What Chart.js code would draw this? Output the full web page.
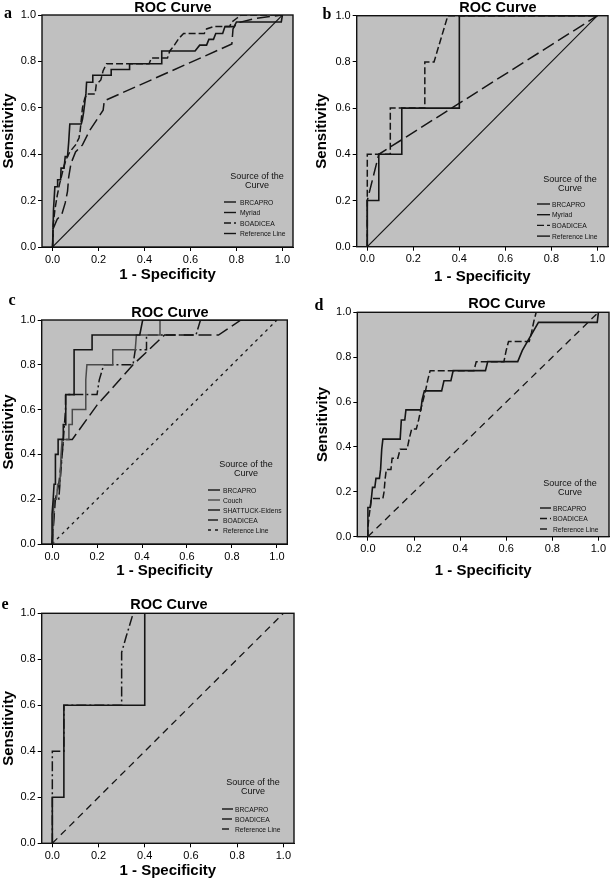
<!DOCTYPE html>
<html><head><meta charset="utf-8">
<script src="https://cdn.jsdelivr.net/npm/chart.js@4.4.1/dist/chart.umd.min.js"></script>
<style>
html,body{margin:0;padding:0;background:#fff;width:610px;height:880px;overflow:hidden}
.p{position:absolute}
canvas{display:block}
</style></head><body>
<div class="p" style="left:0;top:0"><canvas id="ca" width="305" height="290"></canvas></div>
<div class="p" style="left:305px;top:0"><canvas id="cb" width="305" height="290"></canvas></div>
<div class="p" style="left:0;top:290px"><canvas id="cc" width="305" height="290"></canvas></div>
<div class="p" style="left:305px;top:290px"><canvas id="cd" width="305" height="290"></canvas></div>
<div class="p" style="left:0;top:580px"><canvas id="ce" width="305" height="300"></canvas></div>
<script>
// ---------- DATA ----------
const xTicks = [0, 0.2, 0.4, 0.6, 0.8, 1.0];
const yTicks = [0, 0.2, 0.4, 0.6, 0.8, 1.0];
const referenceLine = [[0,0],[1,1]];

// Panel a
const aBRCAPRO = [[0,0],[0.004,0.16],[0.01,0.26],[0.02,0.26],[0.022,0.29],[0.035,0.29],[0.037,0.34],[0.05,0.34],[0.055,0.39],[0.065,0.39],[0.07,0.45],[0.075,0.53],[0.125,0.53],[0.13,0.55],[0.135,0.58],[0.14,0.62],[0.145,0.66],[0.148,0.71],[0.175,0.71],[0.175,0.74],[0.255,0.74],[0.255,0.765],[0.335,0.765],[0.335,0.79],[0.475,0.79],[0.475,0.845],[0.62,0.845],[0.64,0.87],[0.67,0.87],[0.68,0.895],[0.7,0.895],[0.71,0.92],[0.74,0.92],[0.75,0.95],[0.79,0.95],[0.8,0.97],[0.995,0.97],[1,1]];
const aMyriad = [[0,0],[0.003,0.08],[0.02,0.12],[0.04,0.14],[0.055,0.19],[0.065,0.24],[0.07,0.3],[0.08,0.36],[0.1,0.41],[0.13,0.44],[0.16,0.5],[0.22,0.59],[0.225,0.63],[0.78,0.875],[0.785,0.94],[0.8,0.965],[0.88,0.985],[1,1]];
const aBOADICEA = [[0,0],[0.003,0.1],[0.01,0.16],[0.02,0.22],[0.03,0.27],[0.04,0.31],[0.05,0.35],[0.06,0.38],[0.075,0.41],[0.1,0.44],[0.115,0.47],[0.12,0.5],[0.125,0.55],[0.13,0.6],[0.14,0.64],[0.15,0.66],[0.185,0.66],[0.19,0.7],[0.21,0.72],[0.22,0.76],[0.235,0.79],[0.42,0.79],[0.43,0.815],[0.5,0.815],[0.51,0.845],[0.53,0.87],[0.55,0.9],[0.57,0.92],[0.66,0.92],[0.67,0.94],[0.7,0.95],[0.77,0.95],[0.78,0.97],[0.8,0.985],[0.82,1],[1,1]];

// Panel b
const bBRCAPRO = [[0,0],[0,0.2],[0.05,0.2],[0.05,0.4],[0.15,0.4],[0.15,0.6],[0.4,0.6],[0.4,1],[1,1]];
const bMyriad = [[0,0],[0,0.2],[0.05,0.4],[1,1]];
const bBOADICEA = [[0,0],[0,0.4],[0.1,0.4],[0.1,0.6],[0.25,0.6],[0.25,0.8],[0.29,0.8],[0.35,1],[1,1]];

// Panel c
const cBRCAPRO = [[0,0],[0,0.133],[0.005,0.2],[0.009,0.267],[0.015,0.267],[0.015,0.4],[0.027,0.4],[0.027,0.467],[0.05,0.467],[0.05,0.533],[0.061,0.533],[0.061,0.667],[0.098,0.667],[0.098,0.867],[0.178,0.867],[0.178,0.933],[0.39,0.933],[0.403,1],[1,1]];
const cCouch = [[0,0],[0.004,0.067],[0.008,0.2],[0.02,0.2],[0.025,0.267],[0.035,0.267],[0.04,0.4],[0.045,0.467],[0.075,0.467],[0.075,0.533],[0.09,0.533],[0.09,0.6],[0.15,0.6],[0.15,0.733],[0.155,0.8],[0.27,0.8],[0.27,0.867],[0.37,0.867],[0.375,0.933],[0.48,0.933],[0.48,1],[1,1]];
const cSHATTUCK = [[0,0],[0.005,0.067],[0.015,0.2],[0.03,0.267],[0.045,0.4],[0.05,0.467],[0.09,0.467],[0.2,0.62],[0.36,0.8],[0.5,0.933],[0.74,0.933],[0.84,1],[1,1]];
const cBOADICEA = [[0,0],[0.005,0.067],[0.01,0.2],[0.03,0.2],[0.04,0.333],[0.045,0.4],[0.05,0.467],[0.055,0.533],[0.06,0.6],[0.06,0.667],[0.2,0.667],[0.21,0.733],[0.23,0.8],[0.36,0.8],[0.37,0.867],[0.42,0.867],[0.42,0.933],[0.64,0.933],[0.66,1],[1,1]];

// Panel d
const dBRCAPRO = [[0,0],[0,0.13],[0.01,0.13],[0.015,0.17],[0.02,0.22],[0.03,0.22],[0.035,0.26],[0.05,0.26],[0.055,0.3],[0.06,0.39],[0.065,0.435],[0.14,0.435],[0.145,0.52],[0.16,0.52],[0.165,0.565],[0.23,0.565],[0.235,0.61],[0.245,0.65],[0.32,0.65],[0.33,0.695],[0.36,0.695],[0.37,0.74],[0.51,0.74],[0.52,0.78],[0.65,0.78],[0.67,0.83],[0.74,0.955],[0.995,0.955],[1,1]];
const dBOADICEA = [[0,0],[0,0.04],[0.005,0.09],[0.01,0.13],[0.015,0.17],[0.065,0.17],[0.07,0.2],[0.075,0.26],[0.08,0.3],[0.1,0.3],[0.105,0.35],[0.13,0.35],[0.14,0.39],[0.17,0.39],[0.18,0.44],[0.19,0.48],[0.21,0.48],[0.22,0.52],[0.23,0.57],[0.24,0.61],[0.25,0.65],[0.26,0.7],[0.27,0.74],[0.46,0.74],[0.47,0.78],[0.59,0.78],[0.6,0.83],[0.61,0.87],[0.7,0.87],[0.71,0.91],[0.72,0.96],[0.73,1],[1,1]];

// Panel e
const eBRCAPRO = [[0,0],[0,0.2],[0.05,0.2],[0.05,0.6],[0.4,0.6],[0.4,1],[1,1]];
const eBOADICEA = [[0,0],[0,0.4],[0.05,0.4],[0.05,0.6],[0.3,0.6],[0.3,0.83],[0.32,0.9],[0.35,1],[1,1]];

// ---------- STYLES / LAYOUT ----------
const INK = '#151515';
const FONT = '"Liberation Sans", Arial, Helvetica, sans-serif';
const SOLID = [], DASH = [7,3], LONG = [13,5], DASHDOT = [10,3,2,3], SHORT = [3,4], REFD = [7,5];

const panels = [
  {id:'ca', letter:'a', w:305, h:290, pad:{left:0,top:15,right:12,bottom:6}, wy:42, hx:37,
   letterPos:[8,14], titlePos:[173,8],
   legend:{cx:257,y1:177,y0:202,dy:10.5,sx1:224,sx2:236,tx:240},
   series:[['BRCAPRO',aBRCAPRO,SOLID,1.6],['Myriad',aMyriad,LONG,1.5],['BOADICEA',aBOADICEA,DASH,1.5],['Reference Line',referenceLine,SOLID,1.1]]},
  {id:'cb', letter:'b', w:305, h:290, pad:{left:8,top:15.7,right:2,bottom:4}, wy:43.7, hx:39.3,
   letterPos:[22,15], titlePos:[193,8],
   legend:{cx:265,y1:180,y0:204,dy:10.7,sx1:232,sx2:245,tx:247},
   series:[['BRCAPRO',bBRCAPRO,SOLID,1.6],['Myriad',bMyriad,LONG,1.5],['BOADICEA',bBOADICEA,DASH,1.5],['Reference Line',referenceLine,SOLID,1.1]]},
  {id:'cc', letter:'c', w:305, h:290, pad:{left:0,top:30,right:17.7,bottom:0}, wy:41.7, hx:36,
   letterPos:[12,11], titlePos:[170,22.5],
   legend:{cx:246,y1:175,y0:200,dy:10,sx1:208,sx2:220,tx:223},
   series:[['BRCAPRO',cBRCAPRO,SOLID,1.6],['Couch',cCouch,SOLID,1.5,'#4a4a4a'],['SHATTUCK-Eldens',cSHATTUCK,LONG,1.5],['BOADICEA',cBOADICEA,DASHDOT,1.5],['Reference Line',referenceLine,SHORT,1.3]]},
  {id:'cd', letter:'d', w:305, h:290, pad:{left:9,top:22.3,right:1,bottom:0}, wy:43.3, hx:43.3,
   letterPos:[14,16], titlePos:[202,13.5],
   legend:{cx:265,y1:194,y0:218,dy:10.5,sx1:235,sx2:246,tx:248},
   series:[['BRCAPRO',dBRCAPRO,SOLID,1.6],['BOADICEA',dBOADICEA,DASH,1.5],['Reference Line',referenceLine,REFD,1.3]]},
  {id:'ce', letter:'e', w:305, h:300, pad:{left:0,top:33.3,right:11,bottom:0}, wy:41.7, hx:36.7,
   letterPos:[5,25], titlePos:[169,25],
   legend:{cx:253,y1:203,y0:229,dy:10,sx1:222,sx2:233,tx:235},
   series:[['BRCAPRO',eBRCAPRO,SOLID,1.6],['BOADICEA',eBOADICEA,DASHDOT,1.5],['Reference Line',referenceLine,REFD,1.3]]}
];

// ---------- PLUGINS ----------
const framePlugin = {
  id:'frame',
  beforeDatasetsDraw(chart){
    const {ctx, chartArea:a} = chart;
    ctx.save(); ctx.fillStyle = '#c0c0c0';
    ctx.fillRect(a.left, a.top, a.right-a.left, a.bottom-a.top);
    ctx.restore();
  },
  afterDraw(chart){
    const {ctx, chartArea:a} = chart;
    ctx.save(); ctx.strokeStyle = '#111'; ctx.lineWidth = 1.4;
    ctx.strokeRect(a.left, a.top, a.right-a.left, a.bottom-a.top);
    ctx.restore();
  }
};
const textPlugin = {
  id:'panelText',
  afterDraw(chart, args, o){
    const ctx = chart.ctx, L = o.legend;
    ctx.save();
    ctx.fillStyle = '#000'; ctx.textBaseline = 'middle';
    ctx.textAlign = 'center';
    ctx.font = 'bold 16px "Liberation Serif", "Times New Roman", serif';
    ctx.fillText(o.letter, o.letterPos[0], o.letterPos[1]);
    ctx.font = 'bold 14.5px ' + FONT;
    ctx.fillText('ROC Curve', o.titlePos[0], o.titlePos[1]);
    ctx.fillStyle = '#111';
    ctx.font = '9px ' + FONT;
    ctx.fillText('Source of the', L.cx, L.y1);
    ctx.fillText('Curve', L.cx, L.y1 + 9);
    ctx.textAlign = 'left';
    ctx.font = '8px ' + FONT;
    chart.data.datasets.forEach((d,i) => {
      const y = L.y0 + i*L.dy;
      ctx.strokeStyle = d.borderColor; ctx.lineWidth = 1.4;
      ctx.setLineDash(d.borderDash || []);
      ctx.beginPath(); ctx.moveTo(L.sx1, y); ctx.lineTo(L.sx2, y); ctx.stroke();
      ctx.setLineDash([]);
      ctx.save();
      ctx.translate(L.tx, y + 0.5);
      ctx.scale(0.84, 1);
      ctx.fillText(d.label, 0, 0);
      ctx.restore();
    });
    ctx.restore();
  }
};

// ---------- CHARTS ----------
function axis(title, ticksArr, fitFn){
  return {
    type:'linear',
    afterBuildTicks: s => { s.ticks = ticksArr.map(v => ({value:v})); },
    afterFit: fitFn,
    ticks:{ callback: v => Number(v).toFixed(1), color:'#000', padding:2, autoSkip:false, maxRotation:0,
            font:{family:FONT, size:11} },
    grid:{ display:true, drawOnChartArea:false, drawTicks:true, tickLength:4, color:'#000' },
    border:{ display:true, color:'#000', width:1 },
    title:{ display:true, text:title, color:'#000', padding:0, font:{family:FONT, size:15, weight:'bold'} }
  };
}

panels.forEach(p => {
  const datasets = p.series.map(s => ({
    label: s[0],
    data: s[1].map(pt => ({x:pt[0], y:pt[1]})),
    borderDash: s[2],
    borderWidth: s[3],
    borderColor: s[4] || INK,
    backgroundColor: s[4] || INK,
    showLine: true, fill:false, tension:0, pointRadius:0, pointHoverRadius:0
  }));
  const xa = axis('1 - Specificity', xTicks, s => { s.height = p.hx; });
  xa.min = -0.046; xa.max = 1.046; xa.position = 'bottom';
  const ya = axis('Sensitivity', yTicks, s => { s.width = p.wy; });
  ya.min = 0; ya.max = 1; ya.position = 'left';
  new Chart(document.getElementById(p.id), {
    type:'scatter',
    data:{ datasets },
    options:{
      responsive:false, animation:false, devicePixelRatio:1,
      layout:{ padding:p.pad },
      scales:{ x:xa, y:ya },
      plugins:{
        legend:{display:false}, tooltip:{enabled:false}, title:{display:false},
        panelText:{ letter:p.letter, letterPos:p.letterPos, titlePos:p.titlePos, legend:p.legend }
      }
    },
    plugins:[framePlugin, textPlugin]
  });
});
</script>
</body></html>
